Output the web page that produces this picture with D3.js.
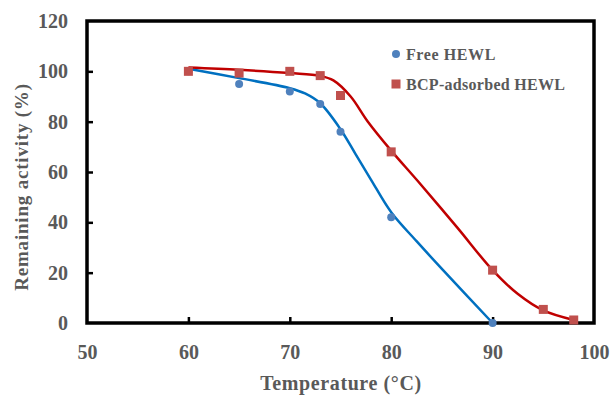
<!DOCTYPE html>
<html>
<head>
<meta charset="utf-8">
<script src="https://d3js.org/d3.v7.min.js"></script>
<style>
  body { margin: 0; background: #fff; }
  text { font-family: "Liberation Serif", "Times New Roman", serif; font-weight: bold; fill: #595959; }
</style>
</head>
<body>
<svg id="chart" width="610" height="397"></svg>
<script>
// measured points
var freeTemp = [60, 65, 70, 73, 75, 80, 90];
var freeAct  = [100, 95, 92, 87, 76, 42, 0];
var bcpTemp  = [60, 65, 70, 73, 75, 80, 90, 95, 98];
var bcpAct   = [100, 99.3, 100, 98.3, 90.4, 68, 21, 5.4, 1.2];

// fitted curves
var freeFit = [[60,101],[65,97.3],[70,93.3],[71.5,91.2],[73,87.3],[75,77],[76.5,67],[78,57],[80,44],[82.5,32.5],[85,21.5],[90,0]];
var bcpFit  = [[60,101.5],[65,100.6],[70,99.3],[73,98.2],[74.3,96.4],[76,90],[77.7,80],[80,68.5],[82.6,56.5],[86.5,38],[90,21],[92.5,11.5],[95,5],[98,1.2]];

var xTicks = [50, 60, 70, 80, 90, 100];
var yTicks = [0, 20, 40, 60, 80, 100, 120];

var margin = {top: 21, right: 16, bottom: 74, left: 87},
    width = 610 - margin.left - margin.right,
    height = 397 - margin.top - margin.bottom;

var svg = d3.select("#chart")
  .append("g")
  .attr("transform", "translate(" + margin.left + "," + margin.top + ")");

var x = d3.scaleLinear().domain([50, 100]).range([0, width]);
var y = d3.scaleLinear().domain([0, 120]).range([height, 0]);

// axes, ticks inward
var xAxis = svg.append("g")
  .attr("transform", "translate(0," + height + ")")
  .call(d3.axisBottom(x).tickValues(xTicks).tickSize(-6).tickPadding(22));
var yAxis = svg.append("g")
  .call(d3.axisLeft(y).tickValues(yTicks).tickSize(-6).tickPadding(19));

[xAxis, yAxis].forEach(function(a) {
  a.select(".domain").remove();
  a.selectAll(".tick line").attr("stroke", "#000").attr("stroke-width", 2.5);
  a.selectAll(".tick text").style("font-size", "20px").attr("fill", "#595959");
});
xAxis.selectAll(".tick").filter(function(d) { return d === 50 || d === 100; }).select("line").remove();
yAxis.selectAll(".tick").filter(function(d) { return d === 0 || d === 120; }).select("line").remove();

// frame
svg.append("rect")
  .attr("width", width).attr("height", height)
  .attr("fill", "none").attr("stroke", "#000").attr("stroke-width", 3.5);

var line = d3.line()
  .x(function(d) { return x(d[0]); })
  .y(function(d) { return y(d[1]); })
  .curve(d3.curveCatmullRom.alpha(0.5));

svg.append("path").datum(freeFit)
  .attr("d", line).attr("fill", "none").attr("stroke", "#0070C0").attr("stroke-width", 2.5);
svg.append("path").datum(bcpFit)
  .attr("d", line).attr("fill", "none").attr("stroke", "#C00000").attr("stroke-width", 2.5);

svg.append("g").selectAll("circle")
  .data(freeTemp)
  .enter().append("circle")
  .attr("cx", function(d) { return x(d); })
  .attr("cy", function(d, i) { return y(freeAct[i]); })
  .attr("r", 4)
  .attr("fill", "#4F81BD");

svg.append("g").selectAll("rect")
  .data(bcpTemp)
  .enter().append("rect")
  .attr("x", function(d) { return x(d) - 4.5; })
  .attr("y", function(d, i) { return y(bcpAct[i]) - 4.5; })
  .attr("width", 9).attr("height", 9)
  .attr("fill", "#C0504D");

// legend
var legend = svg.append("g").attr("transform", "translate(309,33)");
legend.append("circle").attr("cx", 0).attr("cy", 0).attr("r", 4).attr("fill", "#4F81BD");
legend.append("text").attr("x", 10).attr("y", 5.5).style("font-size", "16px").style("letter-spacing", "0.6px").text("Free HEWL");
legend.append("rect").attr("x", -4.5).attr("y", 25.5).attr("width", 9).attr("height", 9).attr("fill", "#C0504D");
legend.append("text").attr("x", 10).attr("y", 36).style("font-size", "16px").style("letter-spacing", "0.3px").text("BCP-adsorbed HEWL");

// axis titles
svg.append("text")
  .attr("x", 341 - margin.left).attr("y", height + 67)
  .style("text-anchor", "middle").style("font-size", "20px").style("letter-spacing", "0.6px")
  .text("Temperature (°C)");

svg.append("text")
  .attr("transform", "rotate(-90)")
  .attr("x", -(187 - margin.top)).attr("y", -59)
  .style("text-anchor", "middle").style("font-size", "19px").style("letter-spacing", "0.8px")
  .text("Remaining  activity (%)");
</script>
</body>
</html>
